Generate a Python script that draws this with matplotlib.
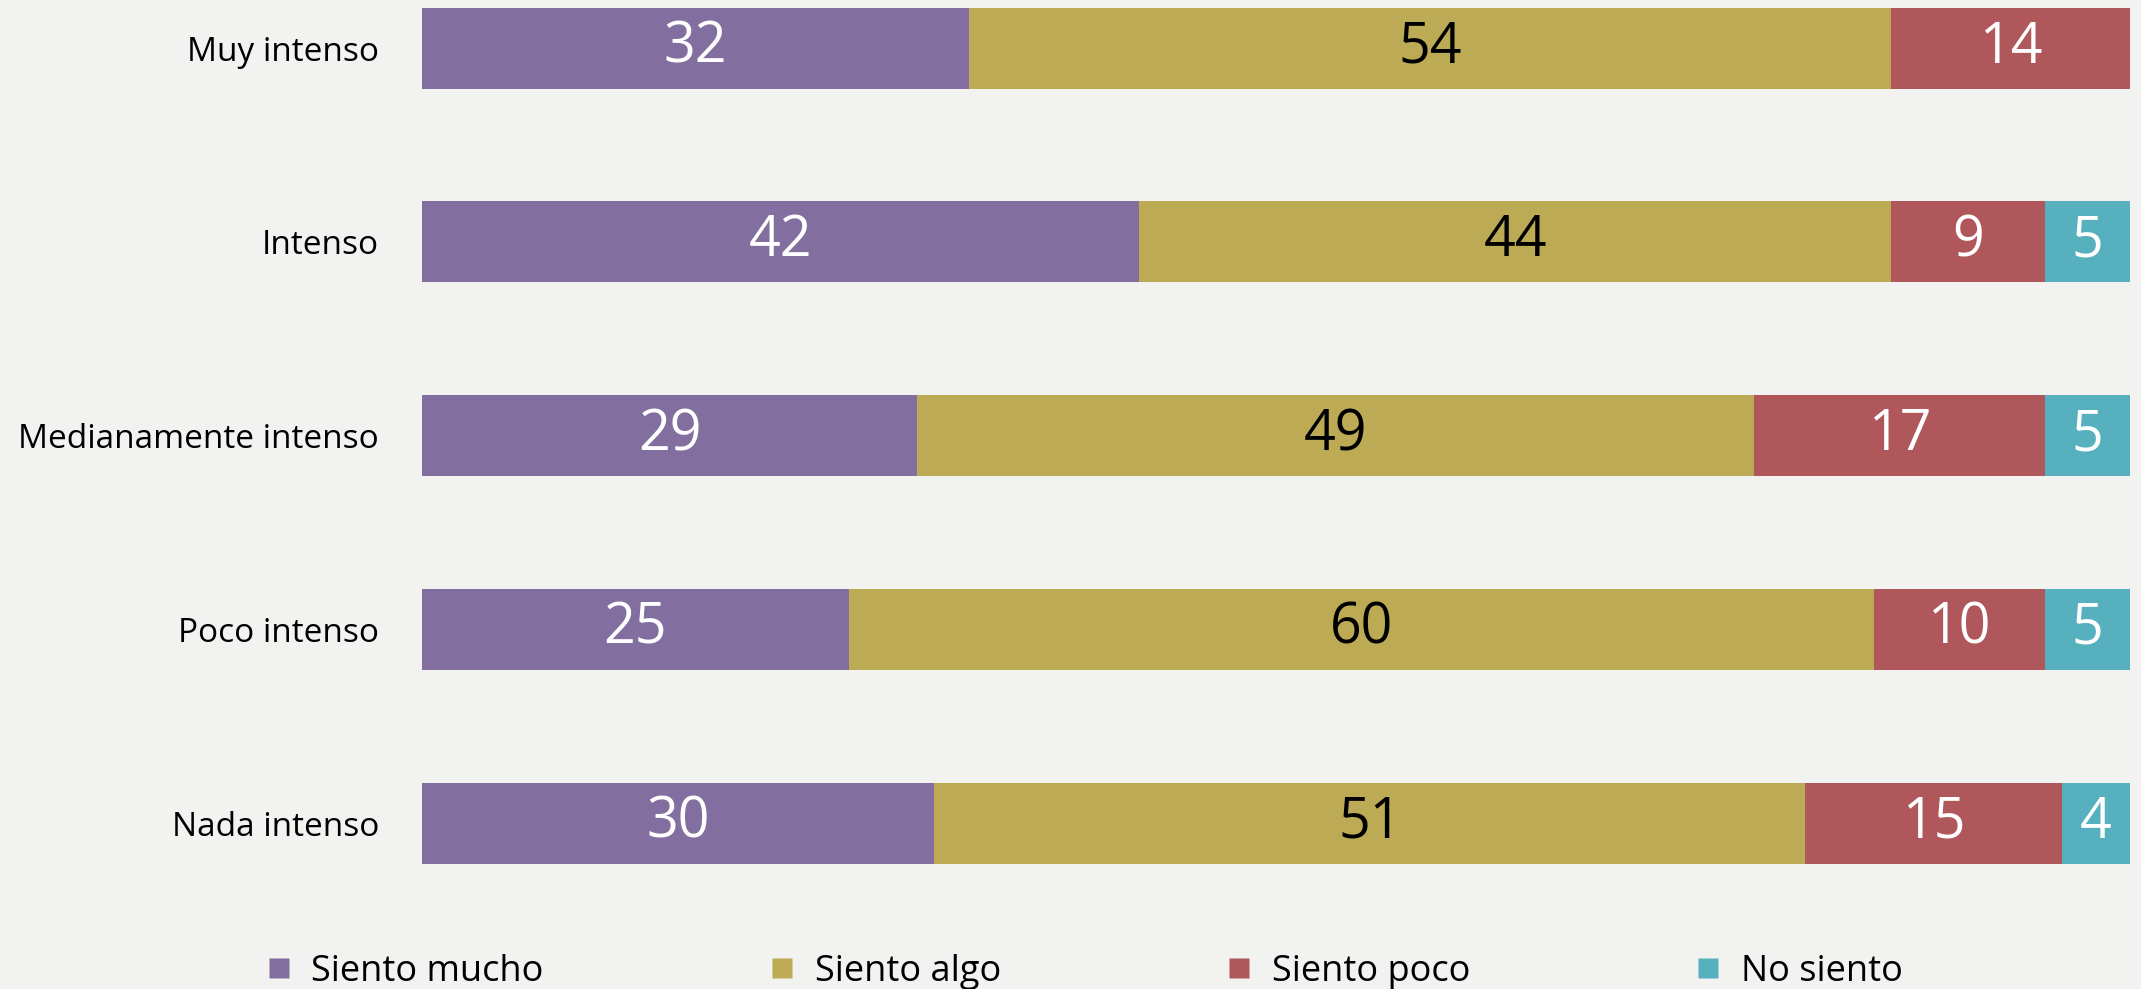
import numpy as np
import matplotlib.pyplot as plt
from matplotlib.lines import Line2D

plt.rcParams['font.family'] = ['Open Sans', 'DejaVu Sans']

categories = ['Muy intenso', 'Intenso', 'Medianamente intenso', 'Poco intenso', 'Nada intenso']
series = ['Siento mucho', 'Siento algo', 'Siento poco', 'No siento']
mucho = [32, 42, 29, 25, 30]
algo = [54, 44, 49, 60, 51]
poco = [14, 9, 17, 10, 15]
no_siento = [0, 5, 5, 5, 4]

colors = ['#836ea0', '#bdaa55', '#b0575c', '#56b0bd']
text_colors = ['white', 'black', 'white', 'white']
bg = '#f2f2f0'

fig = plt.figure(figsize=(21.41, 9.89), dpi=100, facecolor=bg)
ax = fig.add_axes([422 / 2141, 1 - 880 / 989, 1708 / 2141, 880 / 989])
ax.set_facecolor(bg)

y = np.arange(len(categories))
left = np.zeros(len(categories))
for vals, col, tcol in zip([mucho, algo, poco, no_siento], colors, text_colors):
    vals = np.array(vals, dtype=float)
    ax.barh(y, vals, left=left, height=0.418, color=col, edgecolor='none')
    for yi, l, v in zip(y, left, vals):
        if v > 0:
            ax.text(l + v / 2, yi, f'{int(v)}', ha='center', va='center',
                    color=tcol, fontsize=40)
    left += vals

ax.set_xlim(0, 100)
ax.set_ylim(4.294, -0.248)
ax.set_yticks(y)
ax.set_yticklabels(categories, fontsize=24)
ax.tick_params(axis='y', length=0, pad=31)
ax.set_xticks([])
for s in ax.spines.values():
    s.set_visible(False)

handles = [Line2D([], [], marker='s', linestyle='none', markersize=14,
                  markerfacecolor=c, markeredgecolor='none') for c in colors]
fig.legend(handles, series, loc='center', bbox_to_anchor=(0.507, 1 - 972 / 989),
           ncol=4, frameon=False, fontsize=26, handlelength=0.6,
           handletextpad=0.6, columnspacing=6.3)

fig.savefig('out.png', dpi=100, facecolor=bg)
